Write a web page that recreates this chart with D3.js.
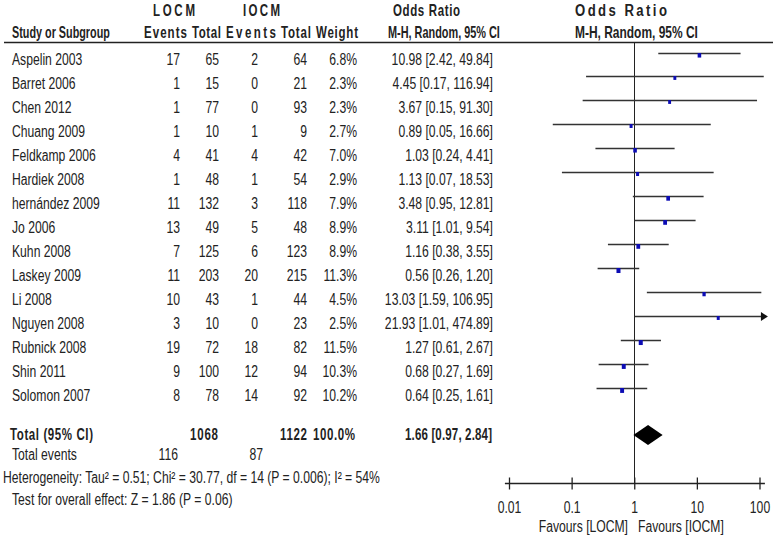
<!DOCTYPE html>
<html><head><meta charset="utf-8">
<script src="https://cdnjs.cloudflare.com/ajax/libs/d3/7.8.5/d3.min.js"></script>
<style>
html,body{margin:0;padding:0;background:#fff;}
svg text{font-family:"Liberation Sans",Arial,sans-serif;font-size:16px;fill:#222;}
</style></head><body>
<svg id="c" width="778" height="535"></svg>
<script>
const studies = ["Aspelin 2003","Barret 2006","Chen 2012","Chuang 2009","Feldkamp 2006","Hardiek 2008","hernández 2009","Jo 2006","Kuhn 2008","Laskey 2009","Li 2008","Nguyen 2008","Rubnick 2008","Shin 2011","Solomon 2007"];
const locmEvents = [17,1,1,1,4,1,11,13,7,11,10,3,19,9,8];
const locmTotal  = [65,15,77,10,41,48,132,49,125,203,43,10,72,100,78];
const iocmEvents = [2,0,0,1,4,1,3,5,6,20,1,0,18,12,14];
const iocmTotal  = [64,21,93,9,42,54,118,48,123,215,44,23,82,94,92];
const weights    = [6.8,2.3,2.3,2.7,7.0,2.9,7.9,8.9,8.9,11.3,4.5,2.5,11.5,10.3,10.2];
const orVals     = [10.98,4.45,3.67,0.89,1.03,1.13,3.48,3.11,1.16,0.56,13.03,21.93,1.27,0.68,0.64];
const orLo       = [2.42,0.17,0.15,0.05,0.24,0.07,0.95,1.01,0.38,0.26,1.59,1.01,0.61,0.27,0.25];
const orHi       = [49.84,116.94,91.30,16.66,4.41,18.53,12.81,9.54,3.55,1.20,106.95,474.89,2.67,1.69,1.61];
const total = {locmTotal:1068, iocmTotal:1122, weight:"100.0%", or:1.66, lo:0.97, hi:2.84, locmEvents:116, iocmEvents:87};
const tickVals = [0.01,0.1,1,10,100];
const tickLabels = ["0.01","0.1","1","10","100"];
const heterogeneity = "Heterogeneity: Tau² = 0.51; Chi² = 30.77, df = 14 (P = 0.006); I² = 54%";
const overall = "Test for overall effect: Z = 1.86 (P = 0.06)";

const svg = d3.select("#c");
const x = d3.scaleLog().domain([0.01,100]).range([509,759.5]);
const yText = d3.scaleLinear().domain([0,14]).range([59.1,395.1]);
const yLine = d3.scaleLinear().domain([0,14]).range([52.5,387.5]);
const xMin = 0.0086, xMax = 122;
const SX = 0.76;

function txt(t, xx, yy, anchor, bold){
  return svg.append("text").attr("transform",`translate(${xx},${yy}) scale(${SX},1)`).attr("dy","0.35em")
    .attr("text-anchor",anchor||"start").style("font-weight",bold?"bold":"normal").text(t);
}
// header text occupying a given span (start x, width): narrow glyphs, letter-spaced to fit
function txtW(t, x0, w, yy, bold, smax){
  const el = svg.append("text").attr("dy","0.35em").style("font-weight",bold?"bold":"normal").text(t);
  const L = el.node().getComputedTextLength();
  const s = Math.min(smax||0.72, w/L);
  el.attr("transform",`translate(${x0},${yy}) scale(${s},1)`);
  if (w/s > L + 0.5) el.attr("textLength", w/s).attr("lengthAdjust","spacing");
  return el;
}
// headers
txtW("LOCM",153,42,10,true);
txtW("IOCM",243,37,10,true);
txtW("Odds Ratio",393,67,10,true);
txtW("Odds Ratio",575,92,10,true,0.82);
txtW("Study or Subgroup",12,98,32,true);
txtW("Events",144,43,32,true);
txtW("Total",192,29,32,true);
txtW("Events",226,50,32,true);
txtW("Total",281,30,32,true);
txtW("Weight",316,42,32,true);
txtW("M-H, Random, 95% CI",388,112,32,true);
txtW("M-H, Random, 95% CI",575,123,32,true,0.76);
svg.append("line").attr("x1",4).attr("x2",773).attr("y1",42.5).attr("y2",42.5).attr("stroke","#222").attr("stroke-width",1.3);

// vertical line at 1
svg.append("line").attr("x1",Math.round(x(1))+0.5).attr("x2",Math.round(x(1))+0.5).attr("y1",43).attr("y2",483).attr("stroke","#222");

const f2 = d3.format(".2f");
studies.forEach((s,i)=>{
  const yy = yText(i), yl = yLine(i);
  txt(s,12,yy);
  txt(locmEvents[i],180,yy,"end");
  txt(locmTotal[i],219,yy,"end");
  txt(iocmEvents[i],258,yy,"end");
  txt(iocmTotal[i],307,yy,"end");
  txt(weights[i].toFixed(1)+"%",357,yy,"end");
  txt(f2(orVals[i])+" ["+f2(orLo[i])+", "+f2(orHi[i])+"]",493,yy,"end");
  const hi = Math.min(orHi[i],xMax), lo=Math.max(orLo[i],xMin);
  svg.append("line").attr("x1",x(lo)).attr("x2",x(hi)).attr("y1",Math.round(yl)+0.5).attr("y2",Math.round(yl)+0.5).attr("stroke","#333").attr("stroke-width",1.3);
  if(orHi[i]>xMax){
    const xe = x(xMax);
    svg.append("path").attr("d",`M${xe+3},${Math.round(yl)+0.5} L${xe-4},${Math.round(yl)-4} L${xe-4},${Math.round(yl)+5} Z`).attr("fill","#111");
  }
  const w = 2 + Math.sqrt(weights[i])*0.6;
  svg.append("rect").attr("x",x(orVals[i])-w/2).attr("y",Math.round(yl)).attr("width",w).attr("height",w+1).attr("fill","#0c0cb4");
});

// total row
const ty = 434.4;
txtW("Total (95% CI)",10,83,ty,true);
txtW(String(total.locmTotal),190,28,ty,true);
txtW(String(total.iocmTotal),280,27,ty,true);
txtW(total.weight,313,42,ty,true);
txtW(f2(total.or)+" ["+f2(total.lo)+", "+f2(total.hi)+"]",405,87,ty,true);
const dy = 435;
svg.append("path").attr("d",`M${x(total.lo)},${dy} L${x(total.or)},${dy-10} L${x(total.hi)},${dy} L${x(total.or)},${dy+10} Z`).attr("fill","#000");

txt("Total events",12,454.5);
txt(total.locmEvents,178,454.5,"end");
txt(total.iocmEvents,263,454.5,"end");
txt(heterogeneity,3,477.7);
txt(overall,12,499.4);

// axis
const ay = 483.5;
svg.append("line").attr("x1",x(xMin)).attr("x2",x(xMax)).attr("y1",ay).attr("y2",ay).attr("stroke","#222").attr("stroke-width",1.3);
const axis = d3.axisBottom(x).tickValues(tickVals).tickFormat((d,i)=>tickLabels[i]).tickSize(0);
const ag = svg.append("g").attr("transform",`translate(0,${ay})`).call(axis);
ag.select(".domain").remove();
ag.selectAll(".tick text").attr("y",null).attr("dy","0.35em").attr("fill","#222")
  .attr("transform",`translate(0,24) scale(${SX},1)`).style("font-size","16px").style("font-family","'Liberation Sans',Arial,sans-serif");
ag.selectAll(".tick").append("line").attr("y1",-6).attr("y2",6).attr("stroke","#222").attr("stroke-width",1.3);
txt("Favours [LOCM]",628,526.4,"end");
txt("Favours [IOCM]",638,526.4,"start");
</script></body></html>
